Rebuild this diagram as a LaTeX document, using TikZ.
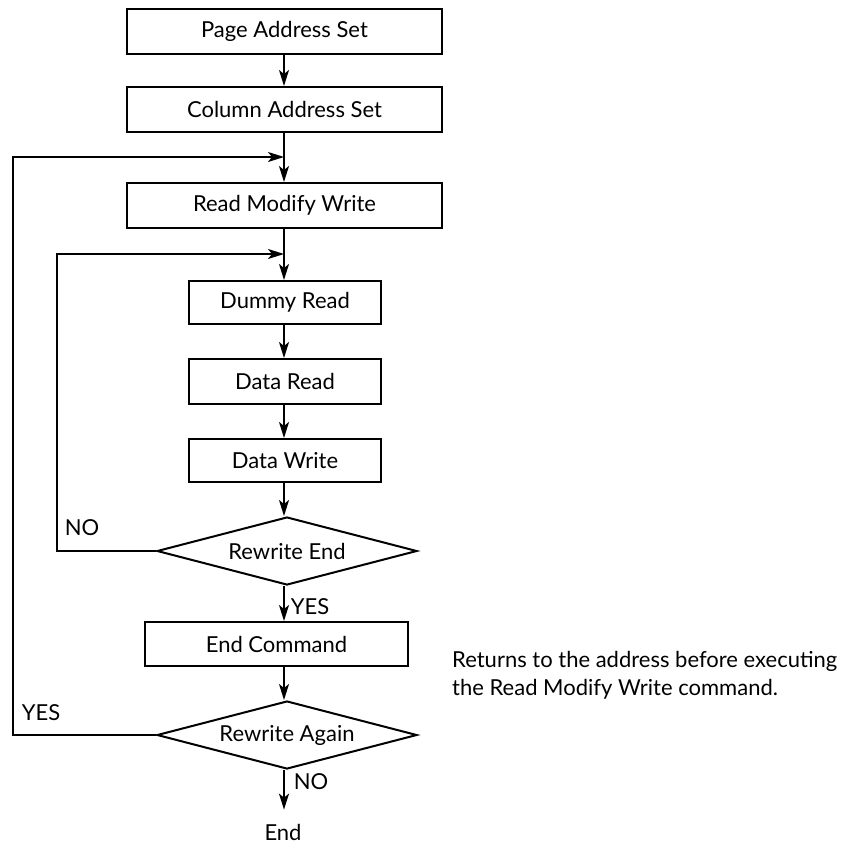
\documentclass[tikz,border=0pt]{standalone}
\usepackage{fontspec}
\setmainfont{Lato}
\usetikzlibrary{shapes.geometric,arrows.meta}
\begin{document}
\begin{tikzpicture}[x=1pt,y=-1pt,
  every node/.style={font=\fontsize{22}{26}\selectfont},
  procbox/.style={draw,line width=2pt,rectangle,inner sep=0pt},
  decision/.style={draw,line width=2pt,diamond,aspect=3.8,inner sep=0pt,minimum width=260pt,minimum height=68pt},
  conn/.style={line width=1.8pt},
  arr/.style={conn,-{Stealth[length=16pt,width=10pt,inset=4pt]}},
  lbl/.style={inner sep=0pt}]
\useasboundingbox (0,0) rectangle (858,844);
\node[procbox,minimum width=315pt,minimum height=45pt] (page) at (284.5,31.5) {Page Address Set};
\node[procbox,minimum width=315pt,minimum height=45pt] (col) at (284.5,109.5) {Column Address Set};
\node[procbox,minimum width=315pt,minimum height=45pt] (rmw) at (284.5,205.5) {Read Modify Write};
\node[procbox,minimum width=192pt,minimum height=43pt] (dummy) at (285,302.5) {Dummy Read};
\node[procbox,minimum width=192pt,minimum height=45pt] (dread) at (285,381.5) {Data Read};
\node[procbox,minimum width=192pt,minimum height=43pt] (dwrite) at (285,460.5) {Data Write};
\node[decision] (rend) at (287,551) {Rewrite End};
\node[procbox,minimum width=263pt,minimum height=44pt] (endcmd) at (276.5,644) {End Command};
\node[decision] (ragain) at (287,735) {Rewrite Again};
\node[lbl,anchor=base] (fin) at (283,840) {End};
\node[lbl,anchor=base west] (note1) at (452,667) {Returns to the address before executing};
\node[lbl,anchor=base west] (note2) at (452,695) {the Read Modify Write command.};
\node[lbl] (no1) at (82,528) {NO};
\node[lbl] (yes1) at (310,607) {YES};
\node[lbl] (yes2) at (41,713) {YES};
\node[lbl] (no2) at (311,782) {NO};
\coordinate (j1) at (284,157);
\coordinate (j2) at (284,254);
\coordinate (o1) at (13,735);
\coordinate (o2) at (13,157);
\coordinate (i1) at (57,551);
\coordinate (i2) at (57,254);
\draw[arr] (page.south -| j1) -- (col.north -| j1);
\draw[arr] (col.south -| j1) -- (rmw.north -| j1);
\draw[arr] (rmw.south -| j1) -- (dummy.north -| j1);
\draw[arr] (dummy.south -| j1) -- (dread.north -| j1);
\draw[arr] (dread.south -| j1) -- (dwrite.north -| j1);
\draw[arr] (dwrite.south -| j1) -- (rend.north -| j1);
\draw[arr] (rend.south -| j1) -- (endcmd.north -| j1);
\draw[arr] (endcmd.south -| j1) -- (ragain.north -| j1);
\draw[arr,shorten >=14pt] (ragain.south -| j1) -- (fin.north -| j1);
\draw[arr] (ragain.west) -- (o1) -- (o2) -- (j1);
\draw[arr] (rend.west) -- (i1) -- (i2) -- (j2);
\end{tikzpicture}
\end{document}
